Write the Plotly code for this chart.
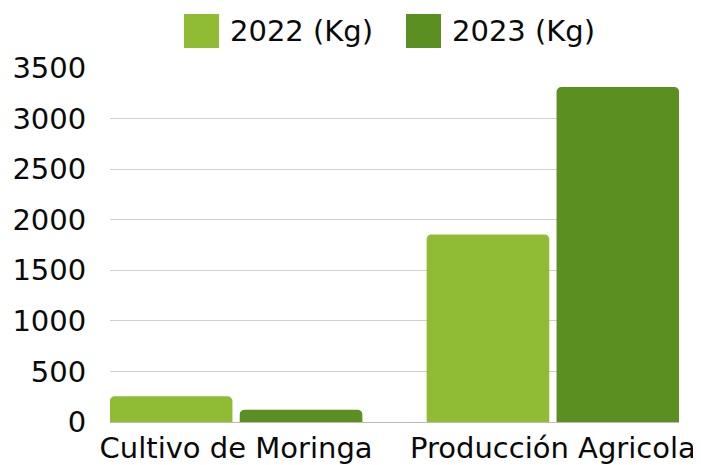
import plotly.graph_objects as go

categories = ["Cultivo de Moringa", "Producción Agricola"]
series_names = ["2022 (Kg)", "2023 (Kg)"]
values_2022 = [255, 1855]
values_2023 = [122, 3312]
tick_vals = [0, 500, 1000, 1500, 2000, 2500, 3000, 3500]

colors = ["#8FBC34", "#5C8F22"]
FONT = "DejaVu Sans"
TXT = "#0A0A0A"

# page body has an 8px margin: lay the figure out in page pixels minus 8
OFF = 8
W, H = 701 - OFF, 465 - OFF
L, R, T, B = 110 - OFF, 22, 68 - OFF, 43
pw, ph = W - L - R, H - T - B

fig = go.Figure()
for name, vals, col in zip(series_names, [values_2022, values_2023], colors):
    fig.add_trace(go.Bar(x=categories, y=vals, name=name,
                         marker=dict(color=col, cornerradius=5, line=dict(width=0)),
                         showlegend=False))

# custom legend (large square swatches), positions in page pixels
def px_to_paper_x(px):
    return (px - OFF - L) / pw

def px_to_paper_y(py):
    return (H - B - (py - OFF)) / ph

legend_items = [(184, 219, 228), (406, 441, 450)]
shapes = []
annotations = []
for (x0, x1, tx), name, col in zip(legend_items, series_names, colors):
    shapes.append(dict(type="rect", xref="paper", yref="paper",
                       x0=px_to_paper_x(x0), x1=px_to_paper_x(x1),
                       y0=px_to_paper_y(48), y1=px_to_paper_y(14),
                       fillcolor=col, line=dict(width=0)))
    annotations.append(dict(text=name, xref="paper", yref="paper",
                            x=px_to_paper_x(tx), y=px_to_paper_y(31),
                            xanchor="left", yanchor="middle", showarrow=False,
                            font=dict(family=FONT, size=29, color=TXT)))

fig.update_layout(
    width=W, height=H,
    margin=dict(l=L, r=R, t=T, b=B, pad=0, autoexpand=False),
    paper_bgcolor="white", plot_bgcolor="white",
    barmode="group", bargap=0.18, bargroupgap=0.056,
    font=dict(family=FONT, size=29, color=TXT),
    shapes=shapes, annotations=annotations,
    xaxis=dict(range=[-0.398, 1.398], showgrid=False, showline=True,
               linecolor="#BBBBBB", linewidth=1, ticks="", automargin=False,
               tickfont=dict(family=FONT, size=29, color=TXT)),
    yaxis=dict(range=[0, 3500], tickvals=tick_vals, showgrid=True,
               gridcolor="#D0D0D0", gridwidth=1, zeroline=False, automargin=False,
               ticks="outside", ticklen=17, tickcolor="rgba(0,0,0,0)",
               tickfont=dict(family=FONT, size=29, color=TXT)),
)

fig.write_html("out.html")
